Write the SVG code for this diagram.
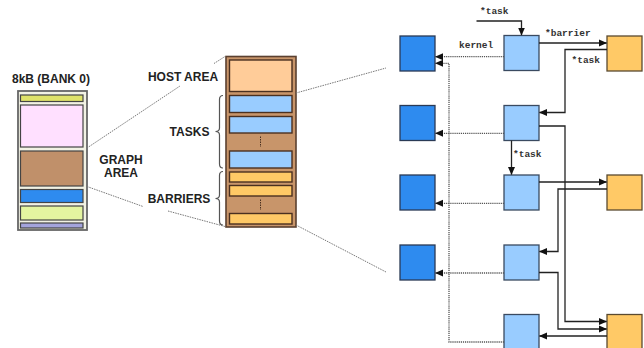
<svg xmlns="http://www.w3.org/2000/svg" width="644" height="348" viewBox="0 0 644 348">
  <defs>
    <marker id="arr" viewBox="0 0 8 8" refX="7.5" refY="4" markerWidth="8" markerHeight="8" markerUnits="userSpaceOnUse" orient="auto">
      <path d="M0,0.5 L8,4 L0,7.5 Z" fill="#111"/>
    </marker>
    <style>
      .lbl { font-family: "Liberation Sans", Arial, sans-serif; font-weight: bold; font-size: 12px; fill: #222; }
      .code { font-family: "Liberation Mono", "Courier New", monospace; font-weight: bold; font-size: 9.5px; fill: #333; }
      .zoom { stroke: #777; stroke-width: 1; stroke-dasharray: 1.5 1; fill: none; }
      .brace { stroke: #555; stroke-width: 1.2; fill: none; }
      .band { stroke: #444; stroke-width: 1.2; }
      .slot { stroke: #4a3020; stroke-width: 1.4; }
      .kern { fill: #2e8bef; stroke: #2a3a55; stroke-width: 1.3; }
      .task { fill: #99ccff; stroke: #3a4a60; stroke-width: 1.3; }
      .barr { fill: #ffc966; stroke: #5a4a30; stroke-width: 1.3; }
      .ptr { stroke: #222; stroke-width: 1.3; fill: none; marker-end: url(#arr); }
      .ptr2 { stroke: #222; stroke-width: 1.3; fill: none; }
      .dot { stroke: #555; stroke-width: 1.3; stroke-dasharray: 1.2 0.9; fill: none; }
      .dota { stroke: #555; stroke-width: 1.3; stroke-dasharray: 1.2 0.9; fill: none; marker-end: url(#arr); }
    </style>
  </defs>

  <!-- bank 0 memory map -->
  <g id="bank0">
    <text class="lbl" x="51" y="83" text-anchor="middle">8kB (BANK 0)</text>
    <rect x="18" y="91" width="69" height="139" fill="#f2f2e4" stroke="#666" stroke-width="1.8"/>
    <rect class="band" x="20.5" y="95" width="62.5" height="6.5" fill="#dfe36a"/>
    <rect class="band" x="20.5" y="105" width="62.5" height="42" fill="#ffe0ff"/>
    <rect class="band" x="20.5" y="151" width="62.5" height="35" fill="#c0906a"/>
    <rect class="band" x="20.5" y="189.5" width="62.5" height="13" fill="#2e8bef"/>
    <rect class="band" x="20.5" y="206" width="62.5" height="14" fill="#e4f5a0"/>
    <rect class="band" x="20.5" y="223" width="62.5" height="5" fill="#a4a4dc"/>
  </g>

  <g id="graph-area-label">
    <text class="lbl" x="121" y="163.5" text-anchor="middle">GRAPH</text>
    <text class="lbl" x="121" y="177" text-anchor="middle">AREA</text>
  </g>

  <!-- graph area layout -->
  <g id="graph-area">
    <rect x="226" y="56.5" width="70" height="170.5" fill="#c8956a" stroke="#5a4030" stroke-width="1.6"/>
    <rect class="slot" x="229.5" y="60" width="62.5" height="31.5" fill="#ffcc99"/>
    <rect class="slot" x="229.5" y="95.5" width="62.5" height="17" fill="#99ccff"/>
    <rect class="slot" x="229.5" y="116.5" width="62.5" height="16.5" fill="#99ccff"/>
    <line x1="260.5" y1="136.5" x2="260.5" y2="147" stroke="#4a3020" stroke-width="1" stroke-dasharray="1.5 1"/>
    <rect class="slot" x="229.5" y="151" width="62.5" height="17" fill="#99ccff"/>
    <rect class="slot" x="229.5" y="172" width="62.5" height="10" fill="#ffc966"/>
    <rect class="slot" x="229.5" y="185.5" width="62.5" height="10.5" fill="#ffc966"/>
    <line x1="260.5" y1="199.5" x2="260.5" y2="210" stroke="#4a3020" stroke-width="1" stroke-dasharray="1.5 1"/>
    <rect class="slot" x="229.5" y="213.5" width="62.5" height="10.5" fill="#ffc966"/>
  </g>

  <g id="host-area-label">
    <text class="lbl" x="183" y="81" text-anchor="middle">HOST AREA</text>
  </g>
  <g id="tasks-label">
    <text class="lbl" x="189.5" y="136" text-anchor="middle">TASKS</text>
    <path class="brace" d="M223,95.5 Q219.5,95.5 219.5,99.5 L219.5,128 Q219.5,131.5 215.5,131.5 Q219.5,131.5 219.5,135 L219.5,164 Q219.5,168 223,168"/>
  </g>
  <g id="barriers-label">
    <text class="lbl" x="179" y="203" text-anchor="middle">BARRIERS</text>
    <path class="brace" d="M223,171.5 Q219.5,171.5 219.5,175.5 L219.5,195 Q219.5,198.5 215.5,198.5 Q219.5,198.5 219.5,202 L219.5,221 Q219.5,225 223,225"/>
  </g>

  <!-- zoom guides between the three views -->
  <g id="zoom-guides">
    <line class="zoom" x1="87" y1="148" x2="180" y2="86"/>
    <line class="zoom" x1="214" y1="63.5" x2="225" y2="56.5"/>
    <line class="zoom" x1="87" y1="186.5" x2="143" y2="206.5"/>
    <line class="zoom" x1="168" y1="211" x2="225" y2="226.5"/>
    <line class="zoom" x1="296" y1="93" x2="386" y2="68"/>
    <line class="zoom" x1="296" y1="225" x2="386" y2="272"/>
  </g>

  <!-- kernels -->
  <g id="kernel-1"><rect class="kern" x="400" y="36" width="35" height="35"/></g>
  <g id="kernel-2"><rect class="kern" x="400" y="105.5" width="35" height="35"/></g>
  <g id="kernel-3"><rect class="kern" x="400" y="175" width="35" height="35"/></g>
  <g id="kernel-4"><rect class="kern" x="400" y="245" width="35" height="35"/></g>

  <!-- tasks -->
  <g id="task-1"><rect class="task" x="504" y="35.5" width="35" height="35"/></g>
  <g id="task-2"><rect class="task" x="504" y="105.5" width="35" height="35"/></g>
  <g id="task-3"><rect class="task" x="504" y="175" width="35" height="35"/></g>
  <g id="task-4"><rect class="task" x="504" y="245" width="35" height="35"/></g>
  <g id="task-5"><rect class="task" x="504" y="314.5" width="35" height="35"/></g>

  <!-- barriers -->
  <g id="barrier-1"><rect class="barr" x="607" y="36" width="35" height="35"/></g>
  <g id="barrier-2"><rect class="barr" x="607" y="175" width="35" height="35"/></g>
  <g id="barrier-3"><rect class="barr" x="607" y="314.5" width="35" height="35"/></g>

  <!-- pointers -->
  <g id="connectors">
    <!-- entry task pointer -->
    <path class="ptr" d="M476.5,21 H521.5 V35"/>
    <!-- task 1 -> barrier 1 -->
    <path class="ptr" d="M539,43 H606.5"/>
    <!-- barrier 1 -> task 2 -->
    <path class="ptr" d="M607,49.5 H565 V112.5 H539.5"/>
    <!-- task 2 -> task 3 -->
    <path class="ptr" d="M511.5,140.5 V174.5"/>
    <!-- task 3 -> barrier 2 -->
    <path class="ptr" d="M539,182 H606.5"/>
    <!-- barrier 2 -> task 4 -->
    <path class="ptr" d="M607,189 H558 V251.5 H539.5"/>
    <!-- task 2 -> barrier 3 -->
    <path class="ptr" d="M539,126 H565 V321.5 H606.5"/>
    <!-- task 4 -> barrier 3 -->
    <path class="ptr" d="M539,272.5 H558 V329 H606.5"/>
    <!-- barrier 3 -> task 5 -->
    <path class="ptr" d="M607,336 H539.5"/>

    <!-- kernel references -->
    <path class="dota" d="M504,56.7 H435.5"/>
    <path class="dota" d="M504,133.3 H435.5"/>
    <path class="dota" d="M504,203.3 H435.5"/>
    <path class="dota" d="M504,273 H435.5"/>
    <path class="dota" d="M504,342 H449 V63.3 H435.5"/>
  </g>

  <g id="pointer-labels">
    <text class="code" x="480" y="13.5">*task</text>
    <text class="code" x="545" y="35.5">*barrier</text>
    <text class="code" x="459" y="48">kernel</text>
    <text class="code" x="571.5" y="63">*task</text>
    <text class="code" x="513" y="157">*task</text>
  </g>
</svg>
